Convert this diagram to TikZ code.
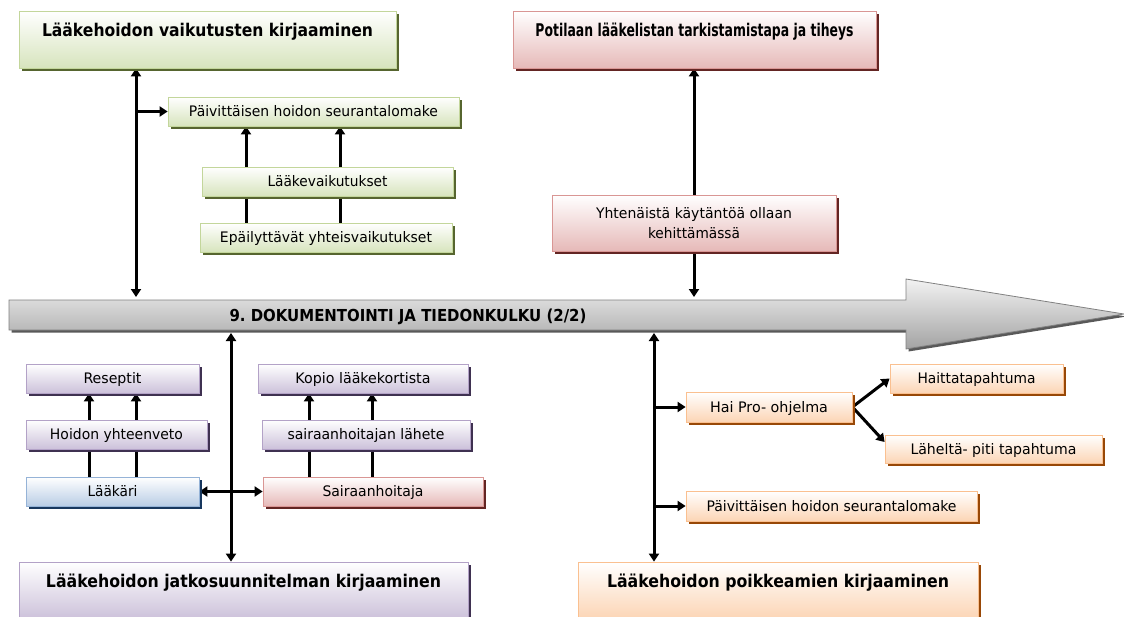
\documentclass[tikz,border=0pt]{standalone}
\usepackage{fontspec}
\usepackage{graphicx}
\setmainfont{DejaVu Sans}
\usetikzlibrary{arrows.meta,shadows,backgrounds,calc}
\definecolor{gfill}{HTML}{D7E4BD}\definecolor{gborder}{HTML}{C3D69B}\definecolor{gshadow}{HTML}{56652F}
\definecolor{pfill}{HTML}{E6B9B8}\definecolor{pborder}{HTML}{D99694}\definecolor{pshadow}{HTML}{632523}
\definecolor{ufill}{HTML}{CCC1DA}\definecolor{uborder}{HTML}{B3A2C7}\definecolor{ushadow}{HTML}{3F3151}
\definecolor{bfill}{HTML}{B9CDE5}\definecolor{bborder}{HTML}{95B3D7}\definecolor{bshadow}{HTML}{17375E}
\definecolor{ofill}{HTML}{FCD5B5}\definecolor{oborder}{HTML}{FAC090}\definecolor{oshadow}{HTML}{984807}
\definecolor{afill}{HTML}{A3A3A3}\definecolor{aborder}{HTML}{808080}\definecolor{ashadow}{HTML}{595959}
\newcommand\fw[2]{\resizebox{#1pt}{\height}{#2}}
\tikzset{
  x=1pt, y=-1pt,
  >={Triangle[length=8pt,width=10pt]},
  box/.style={draw=#1border, line width=0.8pt, top color=white, bottom color=#1fill,
    inner sep=0pt, align=center,
    drop shadow={shadow xshift=2.5pt, shadow yshift=-2.5pt, fill=#1shadow, opacity=1},
    font=\fontsize{14.5}{19.5}\selectfont},
  small/.style={box=#1, text height=10.5pt, text depth=0pt},
  big/.style={box=#1, font=\bfseries\fontsize{17.5}{20}\selectfont, text height=25pt, text depth=32pt},
  conn/.style={line width=3pt, black},
}
\begin{document}
\frenchspacing
\begin{tikzpicture}
\useasboundingbox (0,0) rectangle (1124,616);
% main arrow
\path[draw=aborder, line width=0.8pt, top color=white!95!black, bottom color=afill,
  drop shadow={shadow xshift=2.5pt, shadow yshift=-2.5pt, fill=ashadow, opacity=1}]
  (9,300) -- (906,300) -- (906,279) -- (1124,314) -- (906,349) -- (906,330) -- (9,330) -- cycle;
\node[font=\bfseries\fontsize{16.5}{19}\selectfont, inner sep=0pt, text height=12pt, text depth=0pt] (mt) at (408,315) {\fw{357}{9. DOKUMENTOINTI JA TIEDONKULKU (2/2)}};
\coordinate (a1) at (136,297);
\coordinate (a2) at (694,297);
\coordinate (b2) at (231,333);
\coordinate (b3) at (654,333);
\coordinate (x246) at (246,0);
\coordinate (x340) at (340,0);
\coordinate (x89) at (89,0);
\coordinate (x136) at (136,0);
\coordinate (x309) at (309,0);
\coordinate (x372) at (372,0);

% big boxes
\node[big=g, minimum width=377pt, minimum height=57pt] (g1) at (207.5,39.5) {\fw{331}{Lääkehoidon vaikutusten kirjaaminen}};
\node[big=p, minimum width=363pt, minimum height=57pt] (p1) at (694.5,39.5) {\fw{318}{Potilaan lääkelistan tarkistamistapa ja tiheys}};
\node[big=u, minimum width=449pt, minimum height=57pt] (u1) at (243.5,590.5) {\fw{395}{Lääkehoidon jatkosuunnitelman kirjaaminen}};
\node[big=o, minimum width=400pt, minimum height=57pt] (o1) at (778,590.5) {\fw{342}{Lääkehoidon poikkeamien kirjaaminen}};

% top-left small
\node[small=g, minimum width=291pt, minimum height=29pt] (s1) at (313.5,111.5) {\fw{249}{Päivittäisen hoidon seurantalomake}};
\node[small=g, minimum width=251pt, minimum height=29pt] (lv) at (327.5,181.5) {\fw{120}{Lääkevaikutukset}};
\node[small=g, minimum width=252pt, minimum height=29pt] (ep) at (326,237.5) {\fw{212}{Epäilyttävät yhteisvaikutukset}};
% top-right small
\node[box=p, minimum width=284pt, minimum height=56pt] (yh) at (694,223) {\fw{196}{Yhtenäistä käytäntöä ollaan}\\\fw{92}{kehittämässä}};
% bottom-left
\node[small=u, minimum width=173pt, minimum height=29pt] (re) at (112.5,378.5) {\fw{58}{Reseptit}};
\node[small=u, minimum width=181pt, minimum height=29pt] (hy) at (116.5,434.5) {\fw{133}{Hoidon yhteenveto}};
\node[small=b, minimum width=173pt, minimum height=29pt] (la) at (112.5,491.5) {\fw{50}{Lääkäri}};
\node[small=u, minimum width=210pt, minimum height=29pt] (ko) at (363,378.5) {\fw{135}{Kopio lääkekortista}};
\node[small=u, minimum width=208pt, minimum height=29pt] (sl) at (366,434.5) {\fw{157}{sairaanhoitajan lähete}};
\node[small=p, minimum width=220pt, minimum height=29pt] (sa) at (373,491.5) {\fw{101}{Sairaanhoitaja}};
% bottom-right
\node[small=o, minimum width=166pt, minimum height=30pt] (hp) at (769,407) {\fw{118}{Hai Pro- ohjelma}};
\node[small=o, minimum width=173pt, minimum height=29pt] (ht) at (976.5,378.5) {\fw{118}{Haittatapahtuma}};
\node[small=o, minimum width=217pt, minimum height=28pt] (lp) at (993.5,449) {\fw{166}{Läheltä- piti tapahtuma}};
\node[small=o, minimum width=291pt, minimum height=30pt] (ps) at (831.5,506) {\fw{250}{Päivittäisen hoidon seurantalomake}};

\begin{scope}[on background layer]
\draw[conn,<->] (g1.south -| a1) -- (a1);
\draw[conn,->] (a1 |- s1.west) -- (s1.west);
\draw[conn,->] (ep.north -| x246) -- (s1.south -| x246);
\draw[conn,->] (ep.north -| x340) -- (s1.south -| x340);
\draw[conn,<->] (p1.south -| a2) -- (a2);
\draw[conn,<->] (b2) -- (u1.north -| b2);
\draw[conn,->] (la.north -| x89) -- (re.south -| x89);
\draw[conn,->] (la.north -| x136) -- (re.south -| x136);
\draw[conn,->] (sa.north -| x309) -- (ko.south -| x309);
\draw[conn,->] (sa.north -| x372) -- (ko.south -| x372);
\draw[conn,<->] (la.east) -- (sa.west);
\draw[conn,<->] (b3) -- (o1.north -| b3);
\draw[conn,->] (b3 |- hp.west) -- (hp.west);
\draw[conn,->] (b3 |- ps.west) -- (ps.west);
\draw[conn,->] (hp.east) -- (ht.west);
\draw[conn,->] (hp.east) -- ($(lp.west)+(0,-7)$);
\end{scope}
\end{tikzpicture}
\end{document}
